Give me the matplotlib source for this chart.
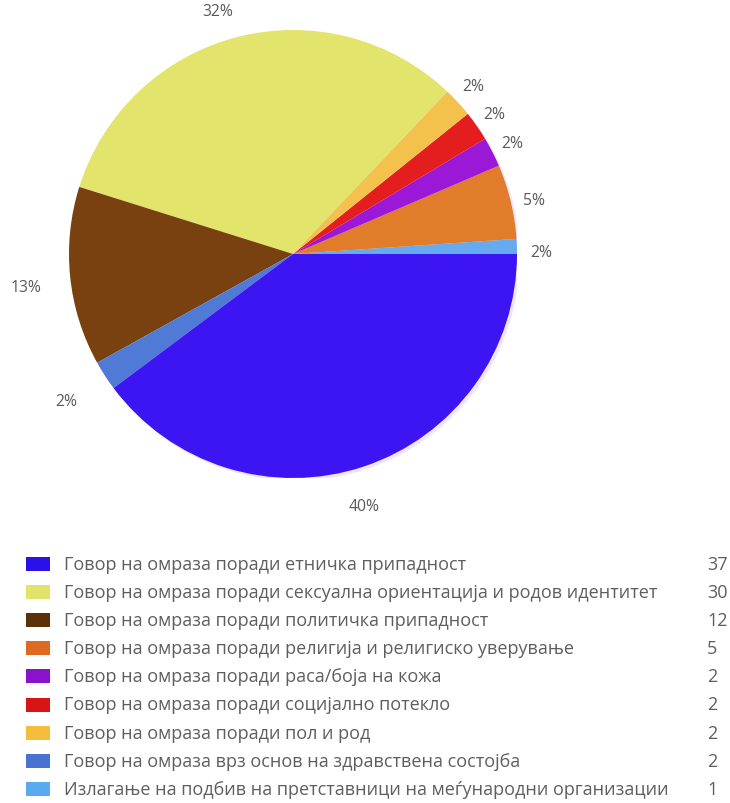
import numpy as np
import matplotlib
matplotlib.use("Agg")
import matplotlib.pyplot as plt
from matplotlib.patches import Rectangle, Circle

# Data (legend order)
categories = [
    "Говор на омраза поради етничка припадност",
    "Говор на омраза поради сексуална ориентација и родов идентитет",
    "Говор на омраза поради политичка припадност",
    "Говор на омраза поради религија и религиско уверување",
    "Говор на омраза поради раса/боја на кожа",
    "Говор на омраза поради социјално потекло",
    "Говор на омраза поради пол и род",
    "Говор на омраза врз основ на здравствена состојба",
    "Излагање на подбив на претставници на меѓународни организации",
]
values = [37, 30, 12, 5, 2, 2, 2, 2, 1]
pct_labels = ["40%", "32%", "13%", "5%", "2%", "2%", "2%", "2%", "2%"]
colors = ["#3d14f2", "#e2e46c", "#78410f", "#e07c2a", "#9b18d6",
          "#e41e1e", "#f4c24c", "#4f7bd6", "#66aaf0"]
legend_colors = ["#2a12e6", "#e2e36a", "#5c3008", "#dc6a22", "#8a12c8",
                 "#d81414", "#f4be3c", "#4a72d0", "#5aaaf0"]
# order of slices counter-clockwise from 3 o'clock
pie_order = [8, 3, 4, 5, 6, 1, 2, 7, 0]

W, H = 730, 804
fig = plt.figure(figsize=(W / 100, H / 100), dpi=100)
fig.patch.set_facecolor("white")

cx, cy, r = 293, 255, 224
ax = fig.add_axes([(cx - r) / W, (H - cy - r) / H, 2 * r / W, 2 * r / H])

# faint shadow
ax.add_patch(Circle((0.012, -0.012), 1.0, facecolor="#efe4fb", edgecolor="none", zorder=0))

vals = [values[i] for i in pie_order]
cols = [colors[i] for i in pie_order]
wedges, _ = ax.pie(vals, colors=cols, startangle=0, counterclock=True, radius=1.0,
                   wedgeprops=dict(linewidth=0, edgecolor="none"))
for w in wedges:
    w.set_zorder(1)
ax.set_xlim(-1, 1)
ax.set_ylim(-1, 1)
ax.set_aspect("equal")
ax.axis("off")

font = "Open Sans"
lc = (-0.045, -0.031)
for w, idx in zip(wedges, pie_order):
    th = np.deg2rad((w.theta1 + w.theta2) / 2)
    d = 1.152
    ax.text(lc[0] + d * np.cos(th), lc[1] + d * np.sin(th), pct_labels[idx],
            ha="center", va="center", fontsize=11.3,
            color="#5a5a5a", family=font, clip_on=False)

# Legend
row0, dy = 565, 28.1
for i, (cat, v) in enumerate(zip(categories, values)):
    y = row0 + i * dy
    fig.patches.append(Rectangle((26 / W, 1 - (y + 7) / H), 24 / W, 14 / H,
                                 transform=fig.transFigure, facecolor=legend_colors[i],
                                 edgecolor="none"))
    fig.text(64 / W, 1 - y / H, cat, ha="left", va="center", fontsize=13.0,
             color="#5e5e5e", family=font)
    fig.text(707 / W, 1 - y / H, str(v), ha="left", va="center", fontsize=13.0,
             color="#5e5e5e", family=font)

fig.savefig("out.png", dpi=100)
